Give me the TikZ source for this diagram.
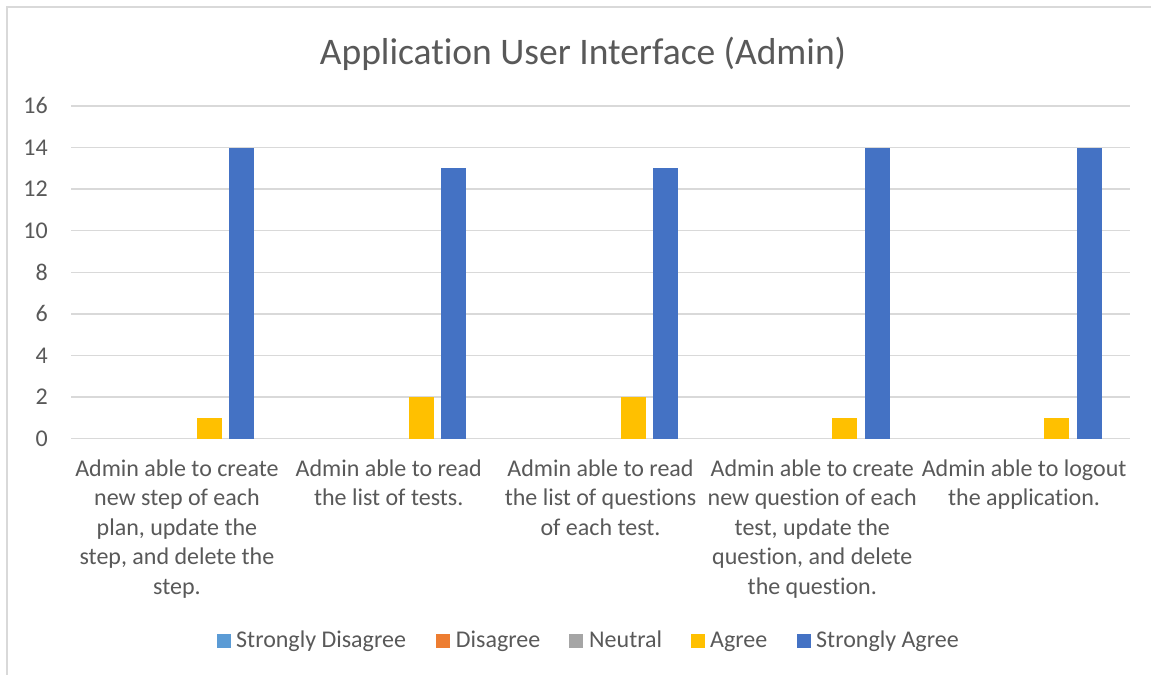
\documentclass[tikz,border=0pt]{standalone}
\usepackage{fontspec}
\setmainfont[Ligatures=NoCommon]{Carlito}
\definecolor{txt}{HTML}{595959}
\definecolor{grid}{HTML}{D9D9D9}
\definecolor{sdis}{HTML}{5B9BD5}
\definecolor{dis}{HTML}{ED7D31}
\definecolor{neu}{HTML}{A5A5A5}
\definecolor{agr}{HTML}{FFC000}
\definecolor{sagr}{HTML}{4472C4}
\begin{document}
\begin{tikzpicture}[x=1pt,y=-1pt,
  lbl/.style={text=txt,font=\fontsize{24}{29.5}\selectfont,inner sep=0pt},
  cat/.style={lbl,align=center,anchor=north},
  gridline/.style={draw=grid,line width=1.3pt},
  key/.style={minimum size=14pt,inner sep=0pt,anchor=south west}]
\useasboundingbox (0,0) rectangle (1151,675);
\fill[white] (0,0) rectangle (1151,675);
% chart frame (top and left edges)
\draw[grid,line width=1.3pt] (1151,7) -- (7,7) -- (7,675);
% title
\node[lbl,font=\fontsize{37.5}{45}\selectfont,anchor=base] (title) at (583,64) {Application User Interface (Admin)};
% horizontal grid and value labels
\foreach \v in {0,2,...,16}{
  \draw[gridline] (71,{438.7-20.8*\v}) -- (1130,{438.7-20.8*\v});
  \node[lbl,anchor=east] (y\v) at (48,{438.7-20.8*\v}) {\v};
}
% bars: Agree and Strongly Agree per category
\foreach \i/\a/\s in {1/1/14,2/2/13,3/2/13,4/1/14,5/1/14}{
  \pgfmathsetmacro{\cx}{71+211.8*(\i-0.5)}
  \fill[agr] ({\cx+32.5-12.5},438.7) rectangle ({\cx+32.5+12.5},{438.7-20.8*\a});
  \fill[sagr] ({\cx+65-12.5},438.7) rectangle ({\cx+65+12.5},{438.7-20.8*\s});
}
% category labels
\node[cat] (c1) at (176.9,459.5) {Admin able to create\\new step of each\\plan, update the\\step, and delete the\\step.};
\node[cat] (c2) at (388.7,459.5) {Admin able to read\\the list of tests.};
\node[cat] (c3) at (600.5,459.5) {Admin able to read\\the list of questions\\of each test.};
\node[cat] (c4) at (812.3,459.5) {Admin able to create\\new question of each\\test, update the\\question, and delete\\the question.};
\node[cat] (c5) at (1024.1,459.5) {Admin able to logout\\the application.};
% legend
\node[key,fill=sdis] (k1) at (216.7,648) {};
\node[lbl,anchor=base west] (t1) at (236,647.7) {Strongly Disagree};
\node[key,fill=dis] (k2) at (436,648) {};
\node[lbl,anchor=base west] (t2) at (455.7,647.7) {Disagree};
\node[key,fill=neu] (k3) at (569,648) {};
\node[lbl,anchor=base west] (t3) at (589,647.7) {Neutral};
\node[key,fill=agr] (k4) at (691,648) {};
\node[lbl,anchor=base west] (t4) at (710,647.7) {Agree};
\node[key,fill=sagr] (k5) at (797,648) {};
\node[lbl,anchor=base west] (t5) at (816,647.7) {Strongly Agree};
\end{tikzpicture}
\end{document}
